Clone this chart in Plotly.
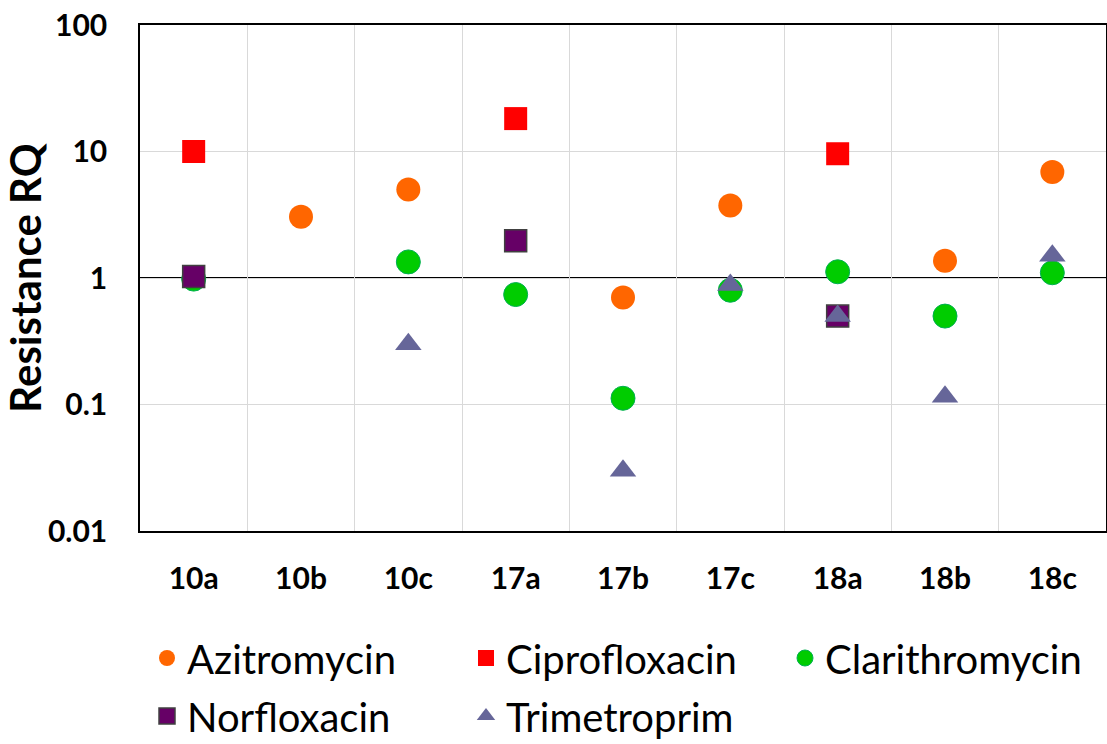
import plotly.graph_objects as go

categories = ["10a", "10b", "10c", "17a", "17b", "17c", "18a", "18b", "18c"]

azitromycin = [None, 3.05, 5.0, None, 0.7, 3.75, None, 1.37, 6.9]
ciprofloxacin = [10.0, None, None, 18.2, None, None, 9.6, None, None]
clarithromycin = [0.98, None, 1.34, 0.74, 0.112, 0.8, 1.12, 0.5, 1.1]
norfloxacin = [1.03, None, None, 1.97, None, None, 0.5, None, None]
trimetroprim = [None, None, 0.3, None, 0.03, 0.88, 0.5, 0.115, 1.5]

y_tickvals = [0.01, 0.1, 1, 10, 100]
y_ticktext = ["0.01", "0.1", "1", "10", "100"]

series = [
    ("Azitromycin", azitromycin, "legend",
     dict(symbol="circle", size=24, color="#FF6600", line=dict(width=0))),
    ("Ciprofloxacin", ciprofloxacin, "legend",
     dict(symbol="square", size=23, color="#FF0000", line=dict(width=0))),
    ("Clarithromycin", clarithromycin, "legend",
     dict(symbol="circle", size=24, color="#00CC00", line=dict(width=1, color="#00B050"))),
    ("Norfloxacin", norfloxacin, "legend2",
     dict(symbol="square", size=22, color="#660066", line=dict(width=1.5, color="#404040"))),
    ("Trimetroprim", trimetroprim, "legend2",
     dict(symbol="triangle-up", size=23, color="#666699", line=dict(width=0))),
]

fig = go.Figure()
for name, vals, leg, marker in series:
    fig.add_trace(go.Scatter(x=categories, y=vals, mode="markers", name=name,
                             marker=marker, cliponaxis=False, legend=leg))

fig.add_hline(y=1, line_color="black", line_width=2, layer="below")

FONT = "Lato"
W, H = 1107, 744

legend_common = dict(
    orientation="h", xref="container", yref="container",
    xanchor="left", yanchor="middle",
    font=dict(family=FONT, size=40, color="black"),
    entrywidth=274, entrywidthmode="pixels",
    itemsizing="trace", bgcolor="rgba(0,0,0,0)",
)

fig.update_layout(
    width=W, height=H,
    margin=dict(l=140, r=1, t=25, b=213, autoexpand=False),
    plot_bgcolor="white", paper_bgcolor="white",
    font=dict(family=FONT, color="black"),
    showlegend=True,
    legend=dict(x=147 / W, y=1 - 658 / H, **legend_common),
    legend2=dict(x=147 / W, y=1 - 716 / H, **legend_common),
)

fig.update_xaxes(
    type="category", categoryorder="array", categoryarray=categories,
    range=[-0.5, len(categories) - 0.5],
    tickson="boundaries", ticks="",
    showgrid=True, gridcolor="#D9D9D9", gridwidth=1,
    showline=True, linecolor="black", linewidth=1.5, mirror=True,
    tickfont=dict(family=FONT, size=30, color="black", weight="bold"),
    ticklabelstandoff=20,
)

fig.update_yaxes(
    type="log", range=[-2, 2],
    tickvals=y_tickvals, ticktext=y_ticktext,
    showgrid=True, gridcolor="#D9D9D9", gridwidth=1,
    showline=True, linecolor="black", linewidth=1.5, mirror=True,
    ticks="",
    tickfont=dict(family=FONT, size=30, color="black", weight="bold"),
    ticklabelstandoff=25,
    title=dict(text="Resistance RQ", font=dict(family=FONT, size=42, color="black", weight="bold"),
               standoff=10),
)

fig.write_html("out.html")
